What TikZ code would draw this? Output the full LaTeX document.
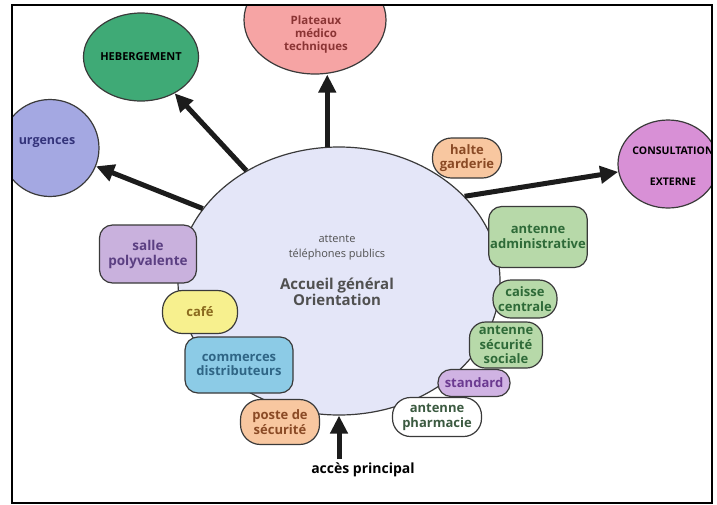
\documentclass[tikz,border=0pt]{standalone}
\usepackage{fontspec}
\setmainfont{Open Sans}
\usetikzlibrary{shapes.geometric,arrows.meta,calc}

\definecolor{edge}{HTML}{3A3A3A}
\definecolor{hall}{HTML}{E4E6F8}
\definecolor{arrowc}{HTML}{1C1C1C}
\definecolor{midgray}{HTML}{505050}
\definecolor{urgc}{HTML}{A4A8E2}
\definecolor{urgtext}{HTML}{33337A}
\definecolor{hebc}{HTML}{3FAA76}
\definecolor{plac}{HTML}{F6A4A4}
\definecolor{platext}{HTML}{8A3434}
\definecolor{conc}{HTML}{D890D6}
\definecolor{lilac}{HTML}{C9B1DD}
\definecolor{lilactext}{HTML}{5B3F82}
\definecolor{yell}{HTML}{F7F08E}
\definecolor{yelltext}{HTML}{8A6A1E}
\definecolor{sky}{HTML}{8CCBE6}
\definecolor{skytext}{HTML}{2F6585}
\definecolor{peach}{HTML}{F8C7A0}
\definecolor{peachtext}{HTML}{8A4A25}
\definecolor{sage}{HTML}{B7D9A9}
\definecolor{sagetext}{HTML}{2E6A38}
\definecolor{violet}{HTML}{D0B3E3}
\definecolor{violettext}{HTML}{6B3A90}
\definecolor{pharmtext}{HTML}{3B5A40}

\begin{document}
\begin{tikzpicture}[x=1pt,y=-1pt,
  box/.style={draw=edge,line width=1.2pt,rounded corners=13pt,align=center,
    font=\bfseries\fontsize{13}{14.5}\selectfont,inner sep=1.5pt},
  blob/.style={ellipse,draw=edge,line width=1.2pt,align=center,inner sep=0pt},
  bigarrow/.style={line width=5pt,draw=arrowc,-{Triangle[length=18pt,width=17pt]}},
]
\useasboundingbox (0,0) rectangle (717,504);
\fill[white] (0,0) rectangle (717,504);

% central hall
\node[ellipse,draw=edge,line width=1.2pt,fill=hall,minimum width=322pt,
  minimum height=268pt,inner sep=0pt] (accueil) at (339,281) {};
\node[font=\fontsize{11}{15}\selectfont,text=midgray,align=center]
  (attente) at (337,248) {attente\\téléphones publics};
\node[font=\bfseries\fontsize{15}{15.5}\selectfont,text=midgray,align=center]
  (orient) at (337,292) {Accueil général\\Orientation};

\begin{scope}
\clip (12,5) rectangle (712,503);
% outer services
\node[blob,fill=urgc,minimum width=98pt,minimum height=97pt] (urg) at (50,148) {};
\node[font=\bfseries\fontsize{12.5}{14}\selectfont,text=urgtext] (urglabel) at (47,143) {urgences};
\node[blob,fill=hebc,minimum width=104pt,minimum height=88pt,
  font=\bfseries\fontsize{11}{12}\selectfont] (heb) at (141,57) {HEBERGEMENT};
\node[blob,fill=plac,minimum width=142pt,minimum height=108pt] (pla) at (315,20) {};
\node[font=\bfseries\fontsize{11.5}{13}\selectfont,text=platext,align=center]
  (plalabel) at (316,35) {Plateaux\\médico\\techniques};
\node[blob,fill=conc,minimum width=100pt,minimum height=88pt] (con) at (668,164) {};
\node[font=\bfseries\fontsize{10.5}{31}\selectfont,align=center]
  (conlabel) at (673,166) {CONSULTATION\\EXTERNE};

% main flows
\draw[bigarrow] (accueil.152) -- (urg);
\draw[bigarrow] (accueil.130) -- (heb);
\draw[bigarrow] (accueil.95) -- (accueil.95 |- pla.south);
\draw[bigarrow] (accueil.34) -- (con);
\end{scope}

% services around the hall
\node[box,fill=lilac,text=lilactext,minimum width=97pt,minimum height=58pt,
  font=\bfseries\fontsize{13.5}{15}\selectfont] (salle) at (148,254) {salle\\polyvalente};
\node[box,fill=yell,text=yelltext,minimum width=75pt,minimum height=43pt,rounded corners=20pt] (cafe) at (200,312) {café};
\node[box,fill=sky,text=skytext,minimum width=108pt,minimum height=56pt] (comm) at (239,365) {commerces\\distributeurs};
\node[box,fill=peach,text=peachtext,minimum width=79pt,minimum height=45pt,rounded corners=20pt] (poste) at (280,422) {poste de\\sécurité};
\node[box,fill=peach,text=peachtext,minimum width=69pt,minimum height=40pt,rounded corners=19pt] (halte) at (467,158) {halte\\garderie};
\node[box,fill=sage,text=sagetext,minimum width=97pt,minimum height=61pt] (admin) at (538,237) {antenne\\administrative};
\node[box,fill=sage,text=sagetext,minimum width=64pt,minimum height=38pt,rounded corners=18pt] (caisse) at (525,299) {caisse\\centrale};
\node[box,fill=sage,text=sagetext,minimum width=73pt,minimum height=46pt,rounded corners=16pt] (secu) at (506,345) {antenne\\sécurité\\sociale};
\node[box,fill=violet,text=violettext,minimum width=72pt,minimum height=27pt] (std) at (474,383) {standard};
\node[box,fill=white,text=pharmtext,minimum width=89pt,minimum height=39pt,rounded corners=18pt] (pharm) at (437,417) {antenne\\pharmacie};

% main entrance
\node[font=\bfseries\fontsize{14}{16}\selectfont] (acces) at (363,470) {accès principal};
\draw[bigarrow] (accueil.south |- acces.north) -- (accueil.south);

% frame
\draw[line width=1.8pt,black] (12,5) rectangle (712,503);
\end{tikzpicture}
\end{document}
